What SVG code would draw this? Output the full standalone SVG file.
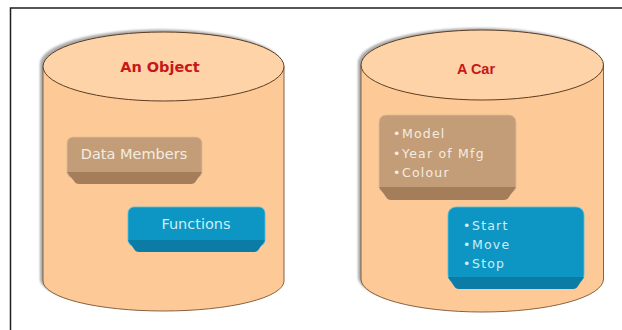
<svg xmlns="http://www.w3.org/2000/svg" width="622" height="330" viewBox="0 0 622 330">
  <defs>
    <filter id="blur" x="-10%" y="-10%" width="120%" height="120%">
      <feGaussianBlur stdDeviation="1.2"/>
    </filter>
  </defs>
  <style>
    .shadow { fill: #8c8c8c; opacity: 0.75; filter: url(#blur); }
    .body { fill: #fdc996; stroke: #7a5534; stroke-width: 0.9; }
    .top { fill: #fdd3a7; stroke: #5e3e22; stroke-width: 1; }
    .title1 { font-family: "DejaVu Sans", Verdana, sans-serif; font-weight: bold; font-size: 14.5px; fill: #c8161a; text-anchor: middle; }
    .title2 { font-family: "Liberation Sans", Arial, sans-serif; font-weight: bold; font-size: 14.5px; fill: #c8161a; text-anchor: middle; }
    .bface { fill: #c39d78; stroke: #d8bc9c; stroke-width: 0.8; }
    .bbevel { fill: #a47e5b; }
    .uface { fill: #0d96c3; stroke: #52c0e0; stroke-width: 0.8; }
    .ubevel { fill: #0a7ca5; }
    .lbl { font-family: "DejaVu Sans", Verdana, sans-serif; font-size: 14.5px; text-anchor: middle; }
    .lst { font-family: "DejaVu Sans", Verdana, sans-serif; font-size: 12.5px; letter-spacing: 1.2px; }
    .onb { fill: #f4ece0; }
    .onu { fill: #c9eef8; }
    .frame { fill: none; stroke: #1e1e1e; stroke-width: 1.5; }
  </style>
  <rect x="0" y="0" width="622" height="330" fill="#ffffff"/>
  <path class="frame" d="M622,8 L10.5,8 L10.5,330"/>

  <g id="cyl-object">
    <path class="shadow" d="M40,64 A120.5 34.5 0 0 1 281,64 L281,279 A120.5 30 0 0 1 40,279 Z"/>
    <path class="body" d="M43,66.5 L43,281 A120.5 30 0 0 0 284,281 L284,66.5 Z"/>
    <ellipse class="top" cx="163.5" cy="66.5" rx="120.5" ry="34.5"/>
    <text class="title1" x="160" y="72">An Object</text>
  </g>

  <g id="cyl-car">
    <path class="shadow" d="M358,63 A121.25 35 0 0 1 600.5,63 L600.5,277 A121.25 33 0 0 1 358,277 Z"/>
    <path class="body" d="M361,65 L361,279 A121.25 33 0 0 0 603.5,279 L603.5,65 Z"/>
    <ellipse class="top" cx="482.25" cy="65" rx="121.25" ry="35"/>
    <text class="title2" x="476" y="73.5">A Car</text>
  </g>

  <g id="box-data-members">
    <rect class="bface" x="67" y="137" width="135" height="41" rx="6"/>
    <path class="bbevel" d="M67,172 L202,172 L196,181 Q194.5,184 191,184 L79,184 Q75.5,184 74,181 Z"/>
    <text class="lbl onb" x="134" y="158.5">Data Members</text>
  </g>

  <g id="box-functions">
    <rect class="uface" x="128" y="207" width="137" height="39" rx="6"/>
    <path class="ubevel" d="M128,240 L265,240 L259,249 Q257.5,252 254,252 L139,252 Q135.5,252 134,249 Z"/>
    <text class="lbl onu" x="196" y="228.5">Functions</text>
  </g>

  <g id="box-car-data">
    <rect class="bface" x="379" y="115" width="137" height="78" rx="7"/>
    <path class="bbevel" d="M379,187 L516,187 L509,197 Q507.5,200 504,200 L391,200 Q387.5,200 386,197 Z"/>
    <text class="lst onb" x="393" y="138">•<tspan x="402">Model</tspan></text>
    <text class="lst onb" x="393" y="157.5">•<tspan x="402">Year of Mfg</tspan></text>
    <text class="lst onb" x="393" y="177">•<tspan x="402">Colour</tspan></text>
  </g>

  <g id="box-car-functions">
    <rect class="uface" x="448" y="207" width="136" height="76" rx="8"/>
    <path class="ubevel" d="M448,277 L584,277 L578,286 Q576.5,289 573,289 L459,289 Q455.5,289 454,286 Z"/>
    <text class="lst onu" x="463" y="230">•<tspan x="472">Start</tspan></text>
    <text class="lst onu" x="463" y="249">•<tspan x="472">Move</tspan></text>
    <text class="lst onu" x="463" y="268">•<tspan x="472">Stop</tspan></text>
  </g>

  <g id="connectors"/>
</svg>
